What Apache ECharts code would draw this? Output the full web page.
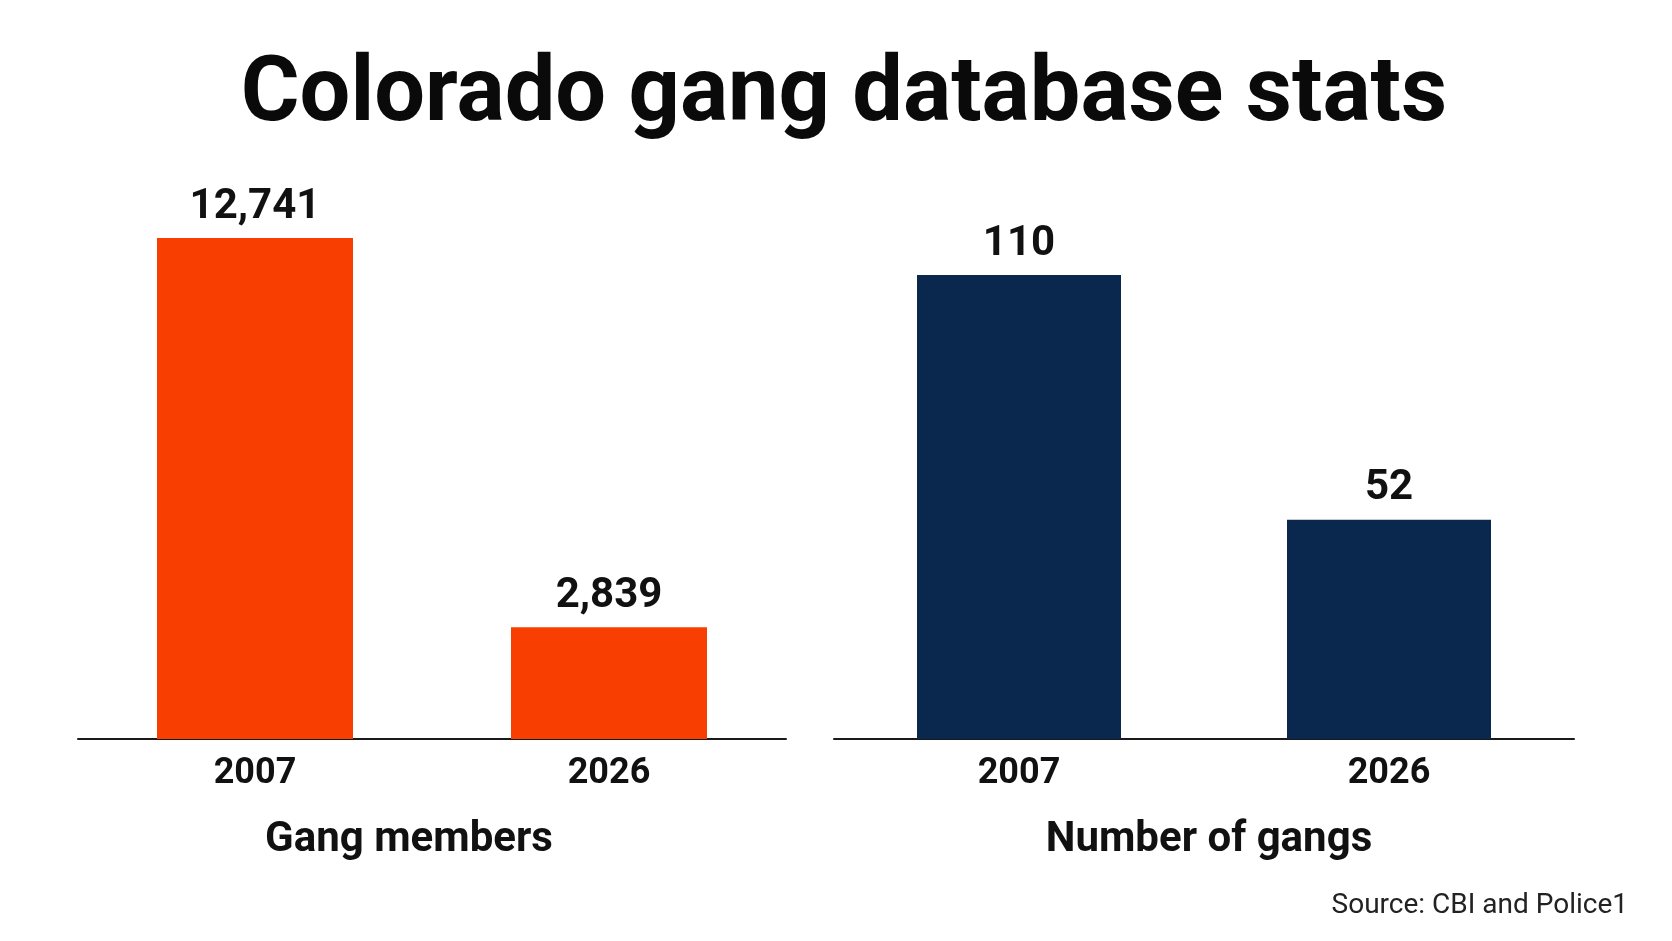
<!DOCTYPE html>
<html>
<head>
<meta charset="utf-8">
<title>Colorado gang database stats</title>
<script src="https://cdn.jsdelivr.net/npm/echarts@6/dist/echarts.min.js"></script>
<style>
    html, body { margin: 0; padding: 0; background: #fff; }
    #main { width: 1672px; height: 941px; }
</style>
</head>
<body>
<div id="main"></div>
<script>
// data
var years = ['2007', '2026'];
var gangMembers = [12741, 2839];
var numberOfGangs = [110, 52];
var panelNames = ['Gang members', 'Number of gangs'];

var FONT = 'Roboto, "Noto Sans", sans-serif';
var ORANGE = '#F83E00';
var NAVY = '#0A284E';

var chart = echarts.init(document.getElementById('main'));

function barSeries(idx, data, color, width) {
    return {
        type: 'bar',
        xAxisIndex: idx,
        yAxisIndex: idx,
        data: data,
        barWidth: width,
        itemStyle: { color: color },
        label: {
            show: true,
            position: 'top',
            distance: 10,
            fontFamily: FONT,
            fontWeight: 'bold',
            fontSize: 42,
            color: '#111',
            formatter: function (p) {
                return p.value.toLocaleString('en-US');
            }
        },
        silent: true
    };
}

function catAxis(idx) {
    return {
        type: 'category',
        gridIndex: idx,
        data: years,
        axisTick: { show: false },
        axisLine: { lineStyle: { color: '#1a1a1a', width: 2 } },
        axisLabel: {
            margin: 17,
            fontFamily: FONT,
            fontWeight: 'bold',
            fontSize: 36,
            color: '#111'
        }
    };
}

function valAxis(idx, max) {
    return {
        type: 'value',
        gridIndex: idx,
        min: 0,
        max: max,
        show: false,
        splitLine: { show: false }
    };
}

var option = {
    backgroundColor: '#fff',
    animation: false,
    title: [
        {
            text: 'Colorado gang database stats',
            left: 839,
            top: 47,
            textAlign: 'center',
            textStyle: { fontFamily: FONT, fontWeight: 'bold', fontSize: 90, color: '#0a0a0a' }
        },
        {
            text: panelNames[0],
            left: 404,
            top: 814,
            textAlign: 'center',
            textStyle: { fontFamily: FONT, fontWeight: 'bold', fontSize: 42, color: '#111' }
        },
        {
            text: panelNames[1],
            left: 1204,
            top: 814,
            textAlign: 'center',
            textStyle: { fontFamily: FONT, fontWeight: 'bold', fontSize: 42, color: '#111' }
        },
        {
            text: 'Source: CBI and Police1',
            right: 39,
            top: 887,
            textStyle: { fontFamily: FONT, fontWeight: 'normal', fontSize: 28, color: '#222' }
        }
    ],
    grid: [
        { left: 78, width: 708, top: 238, bottom: 202 },
        { left: 834, width: 740, top: 275, bottom: 202 }
    ],
    xAxis: [catAxis(0), catAxis(1)],
    yAxis: [valAxis(0, gangMembers[0]), valAxis(1, numberOfGangs[0])],
    series: [
        barSeries(0, gangMembers, ORANGE, 196),
        barSeries(1, numberOfGangs, NAVY, 204)
    ]
};

chart.setOption(option);
window.addEventListener('resize', function () {
    chart.resize();
});
</script>
</body>
</html>
